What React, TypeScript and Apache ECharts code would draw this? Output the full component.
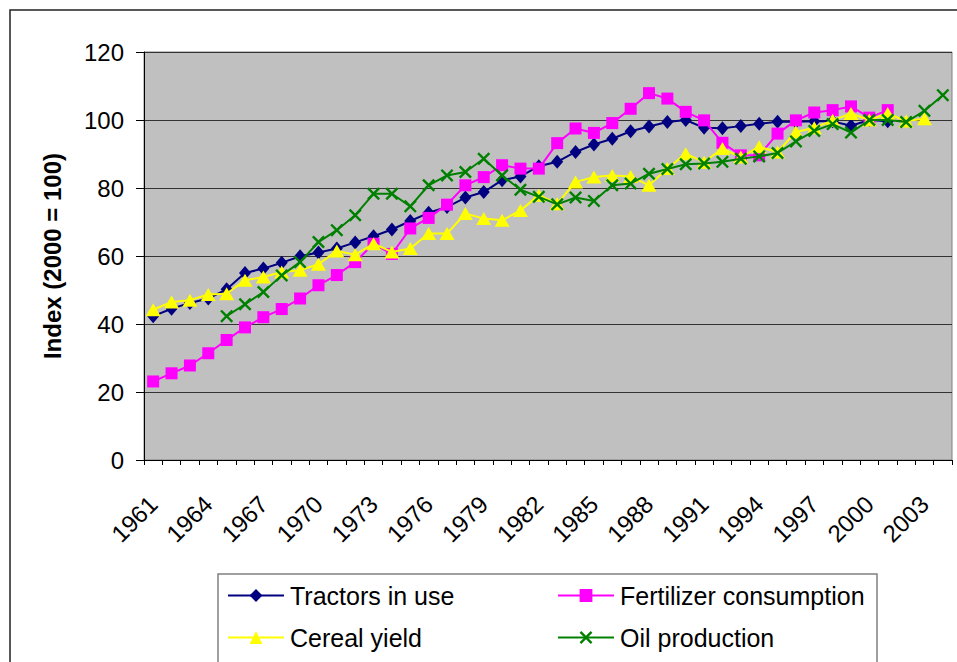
import React, { useEffect, useRef } from "react";
import * as echarts from "echarts";

const years: string[] = [];
for (let y = 1961; y <= 2004; y++) years.push(String(y));

const tractors: (number | null)[] = [
  42.3, 44.5, 46.2, 47.5, 50.2, 55.0, 56.3, 58.0, 59.9, 61.0,
  62.2, 64.0, 65.8, 67.8, 70.3, 72.7, 74.4, 77.2, 78.8, 82.3,
  83.4, 86.4, 87.7, 90.6, 92.8, 94.5, 96.7, 98.1, 99.4, 100.0,
  97.7, 97.6, 98.2, 98.9, 99.5, 99.5, 99.6, 99.6, 98.3, 100.0,
  99.6, null, null, null,
];

const fertilizer: (number | null)[] = [
  23.1, 25.5, 27.8, 31.4, 35.3, 39.0, 42.0, 44.4, 47.5, 51.4,
  54.4, 58.2, 63.6, 60.6, 68.1, 71.2, 75.1, 80.8, 83.2, 86.7,
  85.7, 85.7, 93.2, 97.5, 96.2, 99.1, 103.3, 107.9, 106.3, 102.4,
  99.9, 93.3, 89.6, 89.6, 96.0, 99.9, 102.2, 102.9, 104.0, 100.7,
  102.9, null, null, null,
];

const cereal: (number | null)[] = [
  44.2, 46.5, 47.0, 48.7, 48.9, 52.9, 53.8, 55.3, 55.8, 57.6,
  61.5, 60.4, 63.6, 61.2, 62.2, 66.6, 66.6, 72.5, 71.0, 70.5,
  73.4, 77.9, 75.4, 81.8, 83.2, 83.7, 83.4, 80.8, 85.7, 90.1,
  87.6, 91.6, 89.1, 92.1, 90.6, 96.5, 97.7, 99.9, 101.9, 100.0,
  101.9, 99.7, 100.4, null,
];

const oil: (number | null)[] = [
  null, null, null, null, 42.3, 45.8, 49.4, 54.3, 58.2, 64.1,
  67.6, 72.0, 78.3, 78.3, 74.6, 80.8, 83.7, 84.7, 88.6, 83.7,
  79.5, 77.4, 75.2, 77.2, 76.2, 80.8, 81.3, 84.2, 85.6, 87.0,
  87.2, 87.7, 88.6, 89.3, 90.3, 93.7, 96.8, 98.8, 96.3, 100.0,
  100.0, 99.4, 102.7, 107.3,
];

const seriesNames = [
  "Tractors in use",
  "Fertilizer consumption",
  "Cereal yield",
  "Oil production",
];

const X_PATH =
  "path://M0,1.3 L1.3,0 L5,3.7 L8.7,0 L10,1.3 L6.3,5 L10,8.7 L8.7,10 L5,6.3 L1.3,10 L0,8.7 L3.7,5 Z";

export default function App() {
  const ref = useRef<HTMLDivElement>(null);

  useEffect(() => {
    if (!ref.current) return;
    const chart = echarts.init(ref.current, undefined, { renderer: "svg" });
    const font = "'Liberation Sans', Arial, sans-serif";

    const mkLegend = (name: string, left: number, top: number) => ({
      data: [name],
      left,
      top,
      orient: "horizontal",
      padding: 0,
      itemWidth: 56,
      itemHeight: 16,
      itemGap: 0,
      textStyle: {
        fontFamily: font,
        fontSize: 25,
        color: "#000",
        padding: [0, 0, 0, 1],
      },
    });

    const option: any = {
      animation: false,
      backgroundColor: "#fff",
      graphic: [
        {
          type: "rect",
          shape: { x: 10, y: 10, width: 1100, height: 800 },
          style: { fill: "none", stroke: "#222", lineWidth: 1.5 },
          silent: true,
          z: 0,
        },
        {
          type: "rect",
          shape: { x: 218, y: 574, width: 659, height: 200 },
          style: { fill: "#fff", stroke: "#808080", lineWidth: 1.5 },
          silent: true,
          z: 0,
        },
      ],
      legend: [
        mkLegend(seriesNames[0], 227, 583),
        mkLegend(seriesNames[1], 557, 583),
        mkLegend(seriesNames[2], 227, 625),
        mkLegend(seriesNames[3], 557, 625),
      ],
      grid: {
        left: 144,
        right: 5,
        top: 52,
        bottom: 202,
        show: true,
        backgroundColor: "#C0C0C0",
        borderColor: "#808080",
        borderWidth: 1,
        containLabel: false,
      },
      xAxis: {
        type: "category",
        data: years,
        boundaryGap: true,
        axisLine: { show: true, lineStyle: { color: "#000", width: 1 } },
        axisTick: {
          show: true,
          interval: 0,
          length: 5,
          lineStyle: { color: "#000" },
        },
        axisLabel: {
          interval: 2,
          rotate: 45,
          margin: 40,
          fontFamily: font,
          fontSize: 24,
          color: "#000",
        },
        splitLine: { show: false },
      },
      yAxis: {
        type: "value",
        min: 0,
        max: 120,
        interval: 20,
        name: "Index (2000 = 100)",
        nameLocation: "middle",
        nameRotate: 90,
        nameGap: 80,
        nameTextStyle: {
          fontFamily: font,
          fontSize: 24,
          fontWeight: "bold",
          color: "#000",
        },
        axisLine: { show: true, lineStyle: { color: "#000", width: 1 } },
        axisTick: {
          show: true,
          length: 8,
          lineStyle: { color: "#000" },
        },
        axisLabel: {
          margin: 20,
          fontFamily: font,
          fontSize: 24,
          color: "#000",
        },
        splitLine: { show: true, lineStyle: { color: "#333", width: 1 } },
      },
      series: [
        {
          name: seriesNames[0],
          type: "line",
          data: tractors,
          symbol: "diamond",
          symbolSize: [12, 14],
          showAllSymbol: true,
          lineStyle: { color: "#000080", width: 2 },
          itemStyle: { color: "#000080" },
          z: 2,
        },
        {
          name: seriesNames[1],
          type: "line",
          data: fertilizer,
          symbol: "rect",
          symbolSize: 12,
          showAllSymbol: true,
          lineStyle: { color: "#FF00FF", width: 2 },
          itemStyle: { color: "#FF00FF" },
          z: 3,
        },
        {
          name: seriesNames[2],
          type: "line",
          data: cereal,
          symbol: "triangle",
          symbolSize: [15, 13],
          showAllSymbol: true,
          lineStyle: { color: "#FFFF00", width: 2 },
          itemStyle: { color: "#FFFF00" },
          z: 4,
        },
        {
          name: seriesNames[3],
          type: "line",
          data: oil,
          symbol: X_PATH,
          symbolSize: 13,
          showAllSymbol: true,
          lineStyle: { color: "#008000", width: 2 },
          itemStyle: { color: "#008000" },
          z: 5,
        },
      ],
    };

    chart.setOption(option);
    return () => chart.dispose();
  }, []);

  return (
    <div
      ref={ref}
      style={{ position: "fixed", left: 0, top: 0, width: 957, height: 662 }}
    />
  );
}
